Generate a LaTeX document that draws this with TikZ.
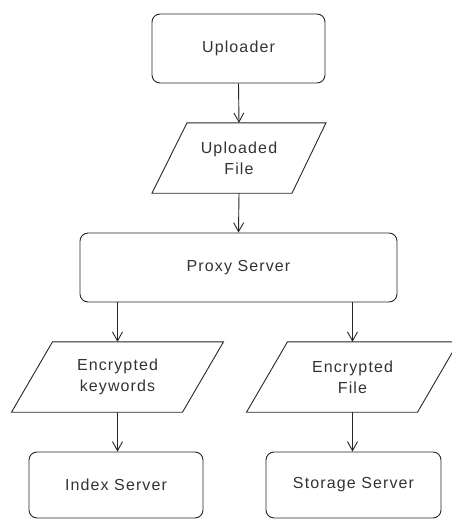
\documentclass[tikz,border=0pt]{standalone}
\usepackage{fontspec}
\setmainfont{Liberation Sans}[LetterSpace=7]
\usetikzlibrary{arrows.meta}
\begin{document}
\begin{tikzpicture}[x=1pt,y=-1pt,
  every node/.style={font=\fontsize{16}{21}\selectfont, align=center, text=black!80},
  procbox/.style={draw=black!85, line width=0.9pt, rounded corners=8pt, inner sep=0pt},
  iobox/.style={inner sep=0pt, minimum height=70pt},
  flow/.style={draw=black!85, line width=0.9pt, -{Straight Barb[length=9pt,width=10pt,line width=0.9pt]}},
  para/.style={draw=black!85, line width=0.9pt, line join=miter}
]
\useasboundingbox (0,0) rectangle (452,520);

\node[procbox, minimum width=173pt, minimum height=69pt] (up) at (238.5,48.5) {Uploader};
\node[iobox, minimum width=139pt] (file) at (239,158) {Uploaded\\File};
\node[procbox, minimum width=317pt, minimum height=69pt] (proxy) at (238.5,267.5) {Proxy Server};
\node[iobox, minimum width=171pt] (kw) at (117.5,377) {Encrypted\\keywords};
\node[iobox, minimum width=171pt] (ef) at (352.5,377) {Encrypted\\File};
\node[procbox, minimum width=174pt, minimum height=66pt] (idx) at (116,485) {Index Server};
\node[procbox, minimum width=175pt, minimum height=66pt] (st) at (353.5,485) {Storage Server};

% parallelograms
\draw[para] ([xshift=-52pt]file.north) -- ([xshift=87pt]file.north) -- ([xshift=53pt]file.south) -- ([xshift=-87pt]file.south) -- cycle;
\draw[para] ([xshift=-65pt]kw.north) -- ([xshift=106pt]kw.north) -- ([xshift=65pt]kw.south) -- ([xshift=-106pt]kw.south) -- cycle;
\draw[para] ([xshift=-65pt]ef.north) -- ([xshift=106pt]ef.north) -- ([xshift=65pt]ef.south) -- ([xshift=-106pt]ef.south) -- cycle;

\draw[flow] (up.south) -- (file.north);
\draw[flow] (file.south) -- (proxy.north);
\draw[flow] (proxy.south -| kw.north) -- (kw.north);
\draw[flow] (proxy.south -| ef.north) -- (ef.north);
\draw[flow] (kw.south) -- (kw.south |- idx.north);
\draw[flow] (ef.south) -- (ef.south |- st.north);
\end{tikzpicture}
\end{document}
